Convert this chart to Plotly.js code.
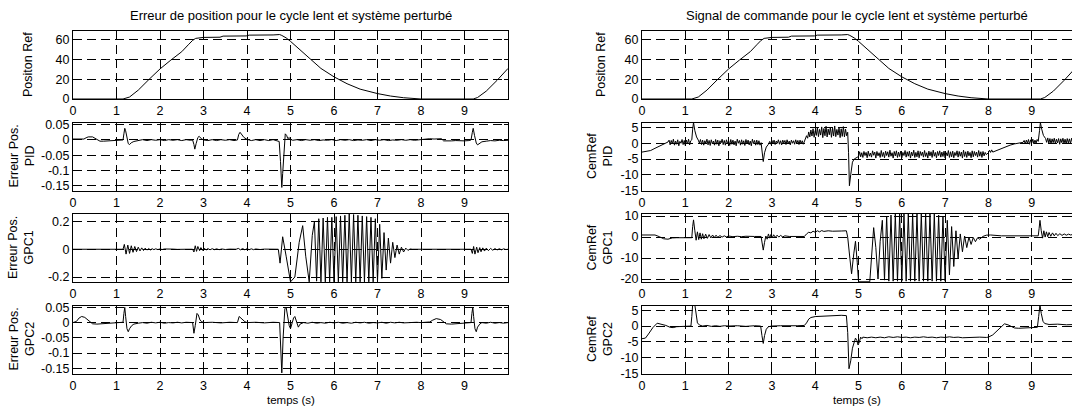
<!DOCTYPE html>
<html>
<head>
<meta charset="utf-8">
<script src="https://cdn.plot.ly/plotly-3.0.1.min.js"></script>
<style>html,body{margin:0;padding:0;background:#fff;}#plot{width:1072px;height:410px;}</style>
</head>
<body>
<div id="plot"></div>
<script>
// ---------- data (time [s], value) ----------
const titleLeft = "Erreur de position pour le cycle lent et système perturbé";
const titleRight = "Signal de commande pour le cycle lent et système perturbé";
const xTitle = "temps (s)";
const yTitlesLeft = ["Positon Ref", "Erreur Pos.<br>PID", "Erreur Pos.<br>GPC1", "Erreur Pos.<br>GPC2"];
const yTitlesRight = ["Positon Ref", "CemRef<br>PID", "CemRef<br>GPC1", "CemRef<br>GPC2"];

const xTickVals = [0,1,2,3,4,5,6,7,8,9];
const xTickText = ["0","1","2","3","4","5","6","7","8","9"];
const posTicks = [0,20,40,60];
const posTickText = ["0","20","40","60"];
const errTicks = [-0.15,-0.1,-0.05,0,0.05];
const errTickText = ["-0.15","-0.1","-0.05","0","0.05"];
const gpc1ErrTicks = [-0.2,0,0.2];
const gpc1ErrTickText = ["-0.2","0","0.2"];
const cmdTicks = [-15,-10,-5,0,5];
const cmdTickText = ["-15","-10","-5","0","5"];
const gpc1CmdTicks = [-20,-10,0,10];
const gpc1CmdTickText = ["-20","-10","0","10"];

const posRef = [[0,0],[1.15,0],[1.3,2],[1.5,9],[1.75,20],[2.0,30.5],[2.25,39.5],[2.5,48],[2.65,55],[2.75,59.5],[2.82,61.5],[2.9,62.2],[3.0,62.5],[3.38,62.7],[3.45,63.8],[3.98,64],[4.05,64.8],[4.6,65],[4.75,65.4],[4.8,64.5],[4.9,62],[5.0,58.5],[5.2,50.5],[5.45,40],[5.7,31],[6.0,22.5],[6.3,15.5],[6.6,10],[7.0,5.5],[7.3,3],[7.6,1.3],[8.0,0],[9.2,0],[9.3,1.5],[9.5,8],[9.75,19],[10,31]];

const errPID = [[0,0.003],[0.25,0.003],[0.3,0.007],[0.35,0.01],[0.45,0.01],[0.5,0.006],[0.55,0.001],[0.62,-0.004],[0.7,-0.004],[0.8,-0.003],[0.9,-0.002],[1.0,-0.003],[1.1,-0.001],[1.15,0],[1.17,0.02],[1.19,0.038],[1.21,0.03],[1.24,0.002],[1.27,-0.012],[1.3,-0.015],[1.34,-0.009],[1.4,-0.005],[1.5,-0.002],[1.6,0.001],[1.7,-0.002],[1.8,0.001],[1.9,-0.001],[2.0,0.001],[2.1,-0.002],[2.2,0.001],[2.3,-0.001],[2.4,0.001],[2.5,-0.002],[2.6,0.001],[2.7,-0.001],[2.75,0],[2.78,-0.015],[2.8,-0.03],[2.83,-0.012],[2.87,0.008],[2.9,0.012],[2.95,0.004],[3.0,0],[3.1,-0.002],[3.2,0.001],[3.3,-0.002],[3.4,0.001],[3.5,-0.001],[3.6,0.001],[3.7,-0.002],[3.78,0],[3.81,0.018],[3.84,0.025],[3.88,0.018],[3.93,0.008],[4.0,0.002],[4.1,-0.002],[4.2,0.001],[4.3,-0.002],[4.4,0.001],[4.5,-0.002],[4.6,0.001],[4.7,-0.002],[4.74,-0.005],[4.77,-0.07],[4.8,-0.155],[4.82,-0.11],[4.85,-0.02],[4.88,0.02],[4.91,0.015],[4.94,0.004],[4.97,0.008],[5.0,0.002],[5.05,-0.001],[5.15,0.001],[5.25,-0.002],[5.35,0.001],[5.45,-0.001],[5.55,0.001],[5.65,-0.002],[5.75,0],[5.85,-0.001],[5.95,0.001],[6.05,-0.002],[6.15,0.001],[6.25,-0.001],[6.35,0.001],[6.45,-0.002],[6.55,0],[6.65,-0.001],[6.75,0.001],[6.85,-0.002],[6.95,0.001],[7.05,-0.001],[7.15,0.001],[7.25,-0.002],[7.35,0],[7.45,-0.001],[7.55,0.001],[7.65,-0.001],[7.75,0.001],[7.85,-0.001],[7.95,0.001],[8.05,0.003],[8.1,0.002],[8.2,0.004],[8.3,0.003],[8.4,0.004],[8.47,0.004],[8.52,-0.003],[8.6,-0.002],[8.7,-0.003],[8.8,-0.002],[8.9,-0.003],[9.0,-0.003],[9.1,-0.002],[9.15,0],[9.18,0.025],[9.2,0.038],[9.23,0.015],[9.27,-0.01],[9.3,-0.016],[9.35,-0.01],[9.4,-0.006],[9.5,-0.004],[9.6,-0.002],[9.7,-0.003],[9.8,-0.001],[9.9,-0.002],[10,-0.001]];

const errGPC1 = [[0,0],[0.3,0],[0.35,-0.003],[0.5,-0.003],[0.55,0],[1.15,0],[1.18,0.035],[1.22,-0.035],[1.26,0.03],[1.3,-0.03],[1.34,0.025],[1.38,-0.022],[1.42,0.02],[1.46,-0.017],[1.5,0.015],[1.54,-0.012],[1.58,0.01],[1.62,-0.009],[1.66,0.008],[1.7,-0.006],[1.74,0.005],[1.78,-0.005],[1.82,0.004],[1.86,-0.003],[1.9,0.003],[1.95,-0.002],[2.0,0.002],[2.05,-0.002],[2.1,0.002],[2.2,-0.001],[2.3,0.001],[2.4,-0.001],[2.5,0.001],[2.6,0],[2.75,0],[2.78,-0.02],[2.81,0.025],[2.84,-0.015],[2.87,0.02],[2.91,-0.01],[2.94,0.012],[2.98,-0.008],[3.02,0.008],[3.06,-0.006],[3.1,0.005],[3.15,-0.004],[3.2,0.004],[3.25,-0.003],[3.3,0.003],[3.36,-0.003],[3.42,0.002],[3.5,-0.002],[3.6,0.001],[3.75,0],[3.8,0.006],[3.85,-0.004],[3.9,0.005],[3.95,-0.004],[4.0,0.004],[4.05,-0.003],[4.1,0.003],[4.15,-0.003],[4.2,0.002],[4.3,-0.002],[4.4,0.001],[4.5,0],[4.72,0],[4.76,-0.1],[4.82,0.09],[4.9,-0.05],[5.0,-0.235],[5.1,-0.2],[5.2,0.05],[5.28,0.17],[5.35,-0.05],[5.43,-0.235],[5.5,0.1],[5.55,0.2],[5.6,-0.23],[5.65,0.22],[5.7,-0.235],[5.75,0.225],[5.8,-0.235],[5.85,0.23],[5.9,-0.235],[5.95,0.23],[6.0,-0.235],[6.05,0.235],[6.1,-0.235],[6.15,0.24],[6.2,-0.235],[6.25,0.245],[6.3,-0.235],[6.35,0.255],[6.4,-0.235],[6.45,0.25],[6.5,-0.235],[6.55,0.245],[6.6,-0.235],[6.65,0.24],[6.7,-0.235],[6.75,0.235],[6.8,-0.235],[6.85,0.23],[6.9,-0.235],[6.95,0.22],[7.0,-0.23],[7.05,0.18],[7.1,-0.21],[7.15,0.12],[7.2,-0.15],[7.25,0.08],[7.3,-0.1],[7.35,0.05],[7.4,-0.06],[7.45,0.03],[7.5,-0.035],[7.55,0.015],[7.6,-0.02],[7.65,0.008],[7.7,-0.008],[7.75,0.002],[7.8,0],[9.15,0],[9.18,-0.03],[9.21,0.02],[9.24,-0.035],[9.28,0.015],[9.31,-0.025],[9.35,0.012],[9.38,-0.018],[9.42,0.01],[9.46,-0.013],[9.5,0.008],[9.55,-0.01],[9.6,0.006],[9.65,-0.007],[9.7,0.005],[9.75,-0.005],[9.8,0.004],[9.85,-0.004],[9.9,0.003],[9.95,-0.002],[10,0]];

const errGPC2 = [[0,0],[0.08,0.004],[0.14,0.015],[0.2,0.02],[0.27,0.017],[0.34,0.008],[0.4,0.001],[0.45,-0.004],[0.55,-0.005],[0.65,-0.004],[0.75,-0.001],[0.85,0],[1.0,0.001],[1.15,0.001],[1.17,0.03],[1.19,0.05],[1.21,0.02],[1.24,-0.02],[1.27,-0.03],[1.3,-0.02],[1.35,-0.01],[1.4,-0.005],[1.5,-0.002],[1.6,0],[1.7,-0.002],[1.8,0.001],[1.9,-0.001],[2.0,0.001],[2.1,-0.002],[2.2,0],[2.3,-0.001],[2.4,0.001],[2.5,-0.001],[2.6,0.001],[2.75,0],[2.78,-0.035],[2.81,-0.01],[2.85,0.03],[2.88,0.025],[2.92,0.008],[2.96,0.003],[3.0,0],[3.2,0.001],[3.4,-0.001],[3.6,0.001],[3.78,0],[3.82,0.02],[3.86,0.015],[3.9,0.007],[3.95,0.003],[4.0,0],[4.2,0.001],[4.4,-0.001],[4.6,0.001],[4.75,0],[4.78,-0.08],[4.8,-0.165],[4.83,-0.05],[4.87,0.045],[4.9,0.05],[4.93,0.02],[4.97,-0.01],[5.0,-0.02],[5.03,0],[5.07,0.015],[5.1,0.02],[5.14,0],[5.18,-0.015],[5.22,-0.005],[5.3,0],[5.4,-0.002],[5.5,0.001],[5.6,-0.002],[5.7,0],[5.8,-0.002],[5.9,0.001],[6.0,-0.001],[6.1,0.001],[6.2,-0.002],[6.3,0],[6.4,-0.002],[6.5,0.001],[6.6,-0.001],[6.7,0.001],[6.8,-0.002],[6.9,0],[7.0,-0.001],[7.1,0.001],[7.2,-0.002],[7.3,0.001],[7.4,-0.001],[7.5,0.001],[7.6,-0.001],[7.7,0],[7.8,-0.001],[7.9,0.001],[8.0,0],[8.1,0.001],[8.2,0.002],[8.27,0.008],[8.35,0.013],[8.45,0.01],[8.52,0.002],[8.58,-0.004],[8.7,-0.005],[8.8,-0.004],[8.9,-0.001],[9.0,0],[9.15,0],[9.17,0.03],[9.19,0.05],[9.21,0.02],[9.24,-0.02],[9.27,-0.03],[9.3,-0.015],[9.35,-0.005],[9.4,0],[9.5,-0.002],[9.6,0.001],[9.7,-0.002],[9.8,0],[9.9,-0.002],[10,0]];

const cmdPID = [[0,-2.8],[0.1,-2.6],[0.2,-2.3],[0.3,-1.6],[0.4,-0.9],[0.5,-0.2],
[0.6,0.4],[0.625,1.0],[0.65,-0.5],[0.675,0.9],[0.7,-0.2],[0.725,1.3],[0.75,-0.6],[0.775,0.7],[0.8,-0.3],[0.825,1.1],[0.85,-0.8],[0.875,0.6],[0.9,0.0],[0.925,1.2],[0.95,-0.4],[0.975,0.9],[1.0,-0.7],[1.025,1.0],[1.05,-0.2],[1.075,1.3],[1.1,-0.5],[1.125,0.8],[1.15,1.1],
[1.17,4.5],[1.19,6.6],[1.22,4.0],[1.26,2.0],[1.3,1.0],
[1.325,0.1],[1.35,1.2],[1.375,-0.4],[1.4,1.0],[1.425,-0.6],[1.45,0.8],[1.475,0.0],[1.5,1.3],[1.525,-0.5],[1.55,0.9],[1.575,-0.7],[1.6,1.1],[1.625,-0.2],[1.65,0.7],[1.675,-0.6],[1.7,1.2],[1.725,-0.3],[1.75,1.0],[1.775,-0.8],[1.8,0.8],[1.825,0.1],[1.85,1.3],[1.875,-0.4],[1.9,0.9],[1.925,-0.6],[1.95,1.1],[1.975,-0.1],[2.0,0.8],[2.025,-0.7],[2.05,1.2],[2.075,-0.3],[2.1,1.0],[2.125,-0.5],[2.15,0.7],[2.175,-0.8],[2.2,1.3],[2.225,0.0],[2.25,0.9],[2.275,-0.6],[2.3,1.1],[2.325,-0.3],[2.35,0.8],[2.375,-0.7],[2.4,1.2],[2.425,-0.2],[2.45,1.0],[2.475,-0.5],[2.5,0.7],[2.525,-0.8],[2.55,1.3],[2.575,-0.1],[2.6,0.9],[2.625,-0.6],[2.65,1.0],[2.675,-0.4],[2.7,0.8],[2.725,-0.6],[2.75,0.2],
[2.78,-3.5],[2.8,-5.8],[2.83,-3.0],[2.87,-1.2],[2.92,-0.3],
[2.95,0.6],[2.975,-0.3],[3.0,0.9],[3.025,-0.1],[3.05,1.0],[3.075,-0.4],[3.1,0.7],[3.125,0.0],[3.15,1.1],[3.175,-0.3],[3.2,0.8],[3.225,-0.5],[3.25,1.0],[3.275,0.1],[3.3,0.9],[3.325,-0.4],[3.35,1.1],[3.375,-0.2],[3.4,0.7],[3.425,-0.5],[3.45,1.0],[3.475,0.0],[3.5,0.8],[3.525,-0.3],[3.55,1.1],[3.575,-0.1],[3.6,0.9],[3.625,-0.4],[3.65,1.0],[3.675,-0.2],[3.7,0.8],[3.725,-0.3],[3.75,0.6],
[3.775,1.2],[3.8,2.4],[3.825,1.6],[3.85,3.6],[3.875,2.0],[3.9,4.2],[3.925,2.3],[3.95,4.6],[3.975,1.9],[4.0,4.0],[4.025,2.5],[4.05,5.0],[4.075,2.1],[4.1,4.4],[4.125,2.6],[4.15,5.2],[4.175,1.8],[4.2,4.7],[4.225,2.4],[4.25,5.4],[4.275,2.0],[4.3,4.5],[4.325,2.7],[4.35,5.1],[4.375,1.9],[4.4,4.8],[4.425,2.3],[4.45,5.5],[4.475,2.1],[4.5,4.4],[4.525,2.6],[4.55,5.0],[4.575,1.8],[4.6,4.6],[4.625,2.2],[4.65,5.3],[4.675,2.0],[4.7,4.5],[4.725,2.4],[4.75,3.5],
[4.77,-3.0],[4.79,-13.5],[4.82,-10.0],[4.86,-6.0],[4.9,-5.0],[4.95,-4.5],[5.0,-4.2],
[5.025,-2.7],[5.05,-4.3],[5.075,-3.0],[5.1,-4.5],[5.125,-2.6],[5.15,-3.9],[5.175,-2.9],[5.2,-4.6],[5.225,-2.5],[5.25,-4.1],
[5.275,-3.1],[5.3,-4.4],[5.325,-2.4],[5.35,-3.8],[5.375,-2.8],[5.4,-4.7],[5.425,-2.6],[5.45,-4.0],[5.475,-3.0],[5.5,-4.5],
[5.525,-2.3],[5.55,-4.2],[5.575,-2.9],[5.6,-4.6],[5.625,-2.5],[5.65,-3.9],[5.675,-2.7],[5.7,-4.4],[5.725,-2.2],[5.75,-4.1],
[5.775,-3.0],[5.8,-4.7],[5.825,-2.6],[5.85,-4.0],[5.875,-2.4],[5.9,-4.5],[5.925,-2.8],[5.95,-4.2],[5.975,-2.5],[6.0,-4.6],
[6.025,-2.9],[6.05,-3.9],[6.075,-2.3],[6.1,-4.4],[6.125,-2.7],[6.15,-4.1],[6.175,-2.5],[6.2,-4.7],[6.225,-2.8],[6.25,-4.0],
[6.275,-2.2],[6.3,-4.5],[6.325,-2.9],[6.35,-4.3],[6.375,-2.4],[6.4,-4.6],[6.425,-2.6],[6.45,-3.9],[6.475,-2.8],[6.5,-4.4],
[6.525,-2.3],[6.55,-4.2],[6.575,-3.0],[6.6,-4.7],[6.625,-2.5],[6.65,-4.0],[6.675,-2.7],[6.7,-4.5],[6.725,-2.2],[6.75,-4.1],
[6.775,-2.9],[6.8,-4.6],[6.825,-2.6],[6.85,-3.9],[6.875,-2.4],[6.9,-4.4],[6.925,-2.8],[6.95,-4.2],[6.975,-2.5],[7.0,-4.7],
[7.025,-3.0],[7.05,-4.0],[7.075,-2.3],[7.1,-4.5],[7.125,-2.7],[7.15,-4.3],[7.175,-2.5],[7.2,-4.6],[7.225,-2.9],[7.25,-3.9],
[7.275,-2.4],[7.3,-4.4],[7.325,-2.6],[7.35,-4.1],[7.375,-2.8],[7.4,-4.7],[7.425,-2.2],[7.45,-4.2],[7.475,-2.7],[7.5,-4.5],
[7.525,-2.5],[7.55,-4.0],[7.575,-2.9],[7.6,-4.6],[7.625,-2.4],[7.65,-4.3],[7.675,-2.6],[7.7,-3.9],[7.725,-2.8],[7.75,-4.4],
[7.775,-2.3],[7.8,-4.1],[7.825,-2.7],[7.85,-4.5],[7.875,-2.6],[7.9,-4.0],[7.925,-2.9],[7.95,-3.6],
[8.0,-3.0],[8.025,-2.2],[8.05,-2.9],[8.075,-2.1],[8.1,-2.8],[8.2,-2.2],[8.3,-1.7],[8.4,-1.1],[8.5,-0.6],[8.6,-0.2],[8.7,0.1],[8.8,0.3],
[8.825,0.9],[8.85,-0.2],[8.875,1.0],[8.9,0.0],[8.925,1.2],[8.95,-0.3],[8.975,1.1],[9.0,0.1],[9.025,1.3],[9.05,-0.2],[9.075,1.0],[9.1,0.0],[9.125,1.2],[9.15,0.6],
[9.18,4.0],[9.2,6.6],[9.23,4.5],[9.27,2.5],[9.32,1.5],
[9.345,0.3],[9.37,1.7],[9.395,0.0],[9.42,1.5],[9.445,-0.2],[9.47,1.4],[9.495,0.2],[9.52,1.6],[9.545,-0.1],[9.57,1.3],[9.595,0.1],[9.62,1.5],[9.645,-0.3],[9.67,1.4],[9.695,0.2],[9.72,1.6],[9.745,0.0],[9.77,1.3],[9.795,-0.2],[9.82,1.5],[9.845,0.1],[9.87,1.4],[9.895,-0.1],[9.92,1.6],[9.945,0.2],[9.97,1.2]];

const cmdGPC1 = [[0,1.0],[0.3,1.0],[0.4,0.2],[0.5,-0.8],[0.6,-1.0],[0.7,-0.4],[0.8,-0.3],[1.15,-0.3],[1.17,5],[1.19,8.2],[1.22,3],[1.25,-1.5],[1.28,2.5],[1.31,-1.2],[1.34,2.0],[1.37,-1.0],[1.4,1.6],[1.43,-0.8],[1.47,1.4],[1.51,-0.6],[1.55,1.2],[1.59,-0.4],[1.63,1.0],[1.67,-0.2],[1.71,0.9],[1.75,-0.1],[1.8,0.7],[1.85,0.0],[1.9,0.6],[1.95,0.1],[2.0,0.5],[2.1,0.2],[2.2,0.4],[2.3,0.2],[2.4,0.4],[2.5,0.2],[2.6,0.3],[2.75,0.3],[2.78,-3],[2.8,-6.2],[2.83,-2.5],[2.86,0.5],[2.89,-1.0],[2.92,1.5],[2.95,-0.5],[2.98,1.3],[3.01,-0.3],[3.04,1.1],[3.08,-0.1],[3.12,0.9],[3.16,0.0],[3.2,0.8],[3.25,0.1],[3.3,0.6],[3.4,0.3],[3.5,0.4],[3.6,0.3],[3.75,0.3],[3.8,1.5],[3.85,2.3],[3.9,2.0],[3.95,2.8],[4.0,2.3],[4.05,3.0],[4.1,2.5],[4.15,3.1],[4.2,2.7],[4.3,3.0],[4.4,2.8],[4.5,3.0],[4.6,2.9],[4.72,3.0],[4.75,0],[4.8,-10],[4.84,-17.5],[4.89,-8],[4.93,-2],[4.97,-12],[5.0,-21.3],[5.26,-21.3],[5.31,-5],[5.35,4.5],[5.4,-5],[5.45,-20],[5.5,-2],[5.55,8],[5.6,-20.5],[5.65,10],[5.7,-21],[5.75,10.5],[5.8,-21],[5.85,11],[5.9,-21],[5.95,11],[6.0,-21],[6.05,11],[6.1,-21],[6.15,11],[6.2,-21],[6.25,11],[6.3,-21],[6.35,11],[6.4,-21],[6.45,11],[6.5,-21],[6.55,11],[6.6,-21],[6.65,11],[6.7,-21],[6.75,11],[6.8,-21],[6.85,10.5],[6.9,-21],[6.95,10],[7.0,-21],[7.05,8],[7.1,-18],[7.15,5],[7.2,-14],[7.25,3],[7.3,-10],[7.35,1.5],[7.4,-7],[7.45,0.5],[7.5,-5],[7.55,0],[7.6,-3.5],[7.65,-0.2],[7.7,-2.2],[7.75,-0.3],[7.8,-1],[7.87,0.3],[7.95,0.9],[8.05,1.0],[8.3,0.6],[9.15,0.6],[9.17,4],[9.19,8],[9.22,3],[9.25,-0.5],[9.28,3],[9.31,0],[9.34,2.5],[9.37,0.2],[9.4,2.2],[9.44,0.4],[9.48,2.0],[9.52,0.6],[9.56,1.8],[9.6,0.7],[9.65,1.6],[9.7,0.8],[9.75,1.5],[9.8,0.9],[9.85,1.4],[9.9,1.0],[9.95,1.3],[10,1.1]];

const cmdGPC2 = [[0,-4],[0.08,-3.8],[0.15,-2.5],[0.25,-0.5],[0.35,0.9],[0.45,0.6],[0.55,0.2],[0.65,-0.4],[0.72,-0.5],[0.8,-0.2],[0.9,-0.2],[1.0,-0.1],[1.13,0],[1.15,3],[1.17,6.7],[1.22,6.7],[1.25,3],[1.28,1.0],[1.33,0.3],[1.4,0],[1.5,0.2],[1.6,-0.1],[1.7,0.1],[1.8,-0.1],[1.9,0.1],[2.0,0],[2.2,0.1],[2.4,-0.1],[2.6,0.1],[2.74,0],[2.77,-3],[2.8,-5.5],[2.83,-3],[2.87,-1],[2.92,-0.2],[3.0,0],[3.2,0.1],[3.4,0],[3.6,0.1],[3.75,0.2],[3.8,1.0],[3.85,2.2],[3.9,2.7],[4.0,3.0],[4.2,3.2],[4.4,3.3],[4.6,3.4],[4.72,3.3],[4.75,-2],[4.78,-13.5],[4.82,-11],[4.86,-7],[4.9,-5],[4.93,-3.8],[4.96,-4.5],[4.99,-6],[5.02,-5],[5.05,-3.5],[5.08,-4],[5.1,-3.5],[5.2,-3.7],[5.3,-3.5],[5.4,-3.7],[5.5,-3.5],[5.6,-3.7],[5.7,-3.4],[5.8,-3.6],[5.9,-3.4],[6.0,-3.6],[6.1,-3.5],[6.2,-3.7],[6.3,-3.5],[6.4,-3.6],[6.5,-3.4],[6.6,-3.6],[6.7,-3.5],[6.8,-3.7],[6.9,-3.5],[7.0,-3.6],[7.1,-3.4],[7.2,-3.6],[7.3,-3.5],[7.4,-3.7],[7.5,-3.6],[7.6,-3.5],[7.7,-3.6],[7.8,-3.5],[7.95,-3.6],[8.0,-3.5],[8.1,-2.8],[8.2,-1.6],[8.3,-0.2],[8.37,0.7],[8.45,0.4],[8.52,-0.1],[8.6,-0.6],[8.7,-0.7],[8.8,-0.6],[9.0,-0.5],[9.13,-0.4],[9.16,3],[9.19,6.7],[9.22,4],[9.26,1.5],[9.3,0.8],[9.4,0.5],[9.6,0.6],[9.8,0.4],[10,0.5]];

// ---------- layout ----------
const FONT = "Liberation Sans, Arial, Helvetica, sans-serif";
const rowTops = [31, 122.5, 214, 305.5];
const rowH = 68;
const H = 410, W = 1072;
const leftDom = [73/W, 508/W];
const rightDom = [642/W, 1.0];

function yDom(i){ return [1 - (rowTops[i]+rowH)/H, 1 - rowTops[i]/H]; }

function axisBase(){
  return {
    showgrid: true, gridcolor: "#000", gridwidth: 1, griddash: "9px,5px",
    showline: true, linecolor: "#000", linewidth: 1, mirror: "ticks",
    ticks: "inside", ticklen: 4, tickcolor: "#000", tickwidth: 1,
    zeroline: false, fixedrange: true,
    tickfont: {family: FONT, size: 12.5, color: "#000"}
  };
}

const panels = [
  {data: posRef, yr: [0, 69], tv: posTicks, tt: posTickText, col: 0, row: 0},
  {data: errPID, yr: [-0.165, 0.057], tv: errTicks, tt: errTickText, col: 0, row: 1},
  {data: errGPC1, yr: [-0.236, 0.254], tv: gpc1ErrTicks, tt: gpc1ErrTickText, col: 0, row: 2},
  {data: errGPC2, yr: [-0.167, 0.056], tv: errTicks, tt: errTickText, col: 0, row: 3},
  {data: posRef, yr: [0, 69], tv: posTicks, tt: posTickText, col: 1, row: 0},
  {data: cmdPID, yr: [-15, 6.6], tv: cmdTicks, tt: cmdTickText, col: 1, row: 1},
  {data: cmdGPC1, yr: [-21.4, 11], tv: gpc1CmdTicks, tt: gpc1CmdTickText, col: 1, row: 2},
  {data: cmdGPC2, yr: [-15, 6.5], tv: cmdTicks, tt: cmdTickText, col: 1, row: 3}
];

const traces = [];
const layout = {
  width: W, height: H, margin: {l:0, r:0, t:0, b:0},
  paper_bgcolor: "#fff", plot_bgcolor: "#fff",
  showlegend: false, font: {family: FONT, size: 12, color: "#000"},
  annotations: []
};

panels.forEach((p, i) => {
  const n = i + 1;
  const xs = n === 1 ? "" : String(n);
  traces.push({
    x: p.data.map(d => d[0]), y: p.data.map(d => d[1]),
    xaxis: "x" + xs, yaxis: "y" + xs,
    type: "scatter", mode: "lines",
    line: {color: "#000", width: 1}, hoverinfo: "skip"
  });
  layout["xaxis" + xs] = Object.assign(axisBase(), {
    domain: p.col === 0 ? leftDom : rightDom,
    range: p.col === 0 ? [0, 10] : [0, 9.93],
    tickvals: xTickVals, ticktext: xTickText,
    anchor: "y" + xs
  });
  layout["yaxis" + xs] = Object.assign(axisBase(), {
    domain: yDom(p.row), range: p.yr,
    tickvals: p.tv, ticktext: p.tt,
    anchor: "x" + xs
  });
  const yd = yDom(p.row);
  const titles = p.col === 0 ? yTitlesLeft : yTitlesRight;
  const isTwo = titles[p.row].indexOf("<br>") >= 0;
  let xc;
  if (p.col === 0) xc = isTwo ? 21 : 28;
  else xc = isTwo ? 599.5 : 601;
  layout.annotations.push({
    text: titles[p.row], xref: "paper", yref: "paper",
    x: xc / W, y: (yd[0] + yd[1]) / 2, xanchor: "center", yanchor: "middle",
    textangle: -90, showarrow: false,
    font: {family: FONT, size: 12.5, color: "#000"}
  });
});

[[titleLeft, leftDom], [titleRight, rightDom]].forEach(([t, d]) => {
  layout.annotations.push({text: t, xref: "paper", yref: "paper",
    x: (d[0]+d[1])/2, y: 1 - 15/H, xanchor: "center", yanchor: "middle",
    showarrow: false, font: {family: FONT, size: 13, color: "#000"}});
  layout.annotations.push({text: xTitle, xref: "paper", yref: "paper",
    x: (d[0]+d[1])/2, y: 1 - 400/H, xanchor: "center", yanchor: "middle",
    showarrow: false, font: {family: FONT, size: 11.5, color: "#000"}});
});

Plotly.newPlot("plot", traces, layout, {displayModeBar: false, staticPlot: true});
</script>
</body>
</html>
